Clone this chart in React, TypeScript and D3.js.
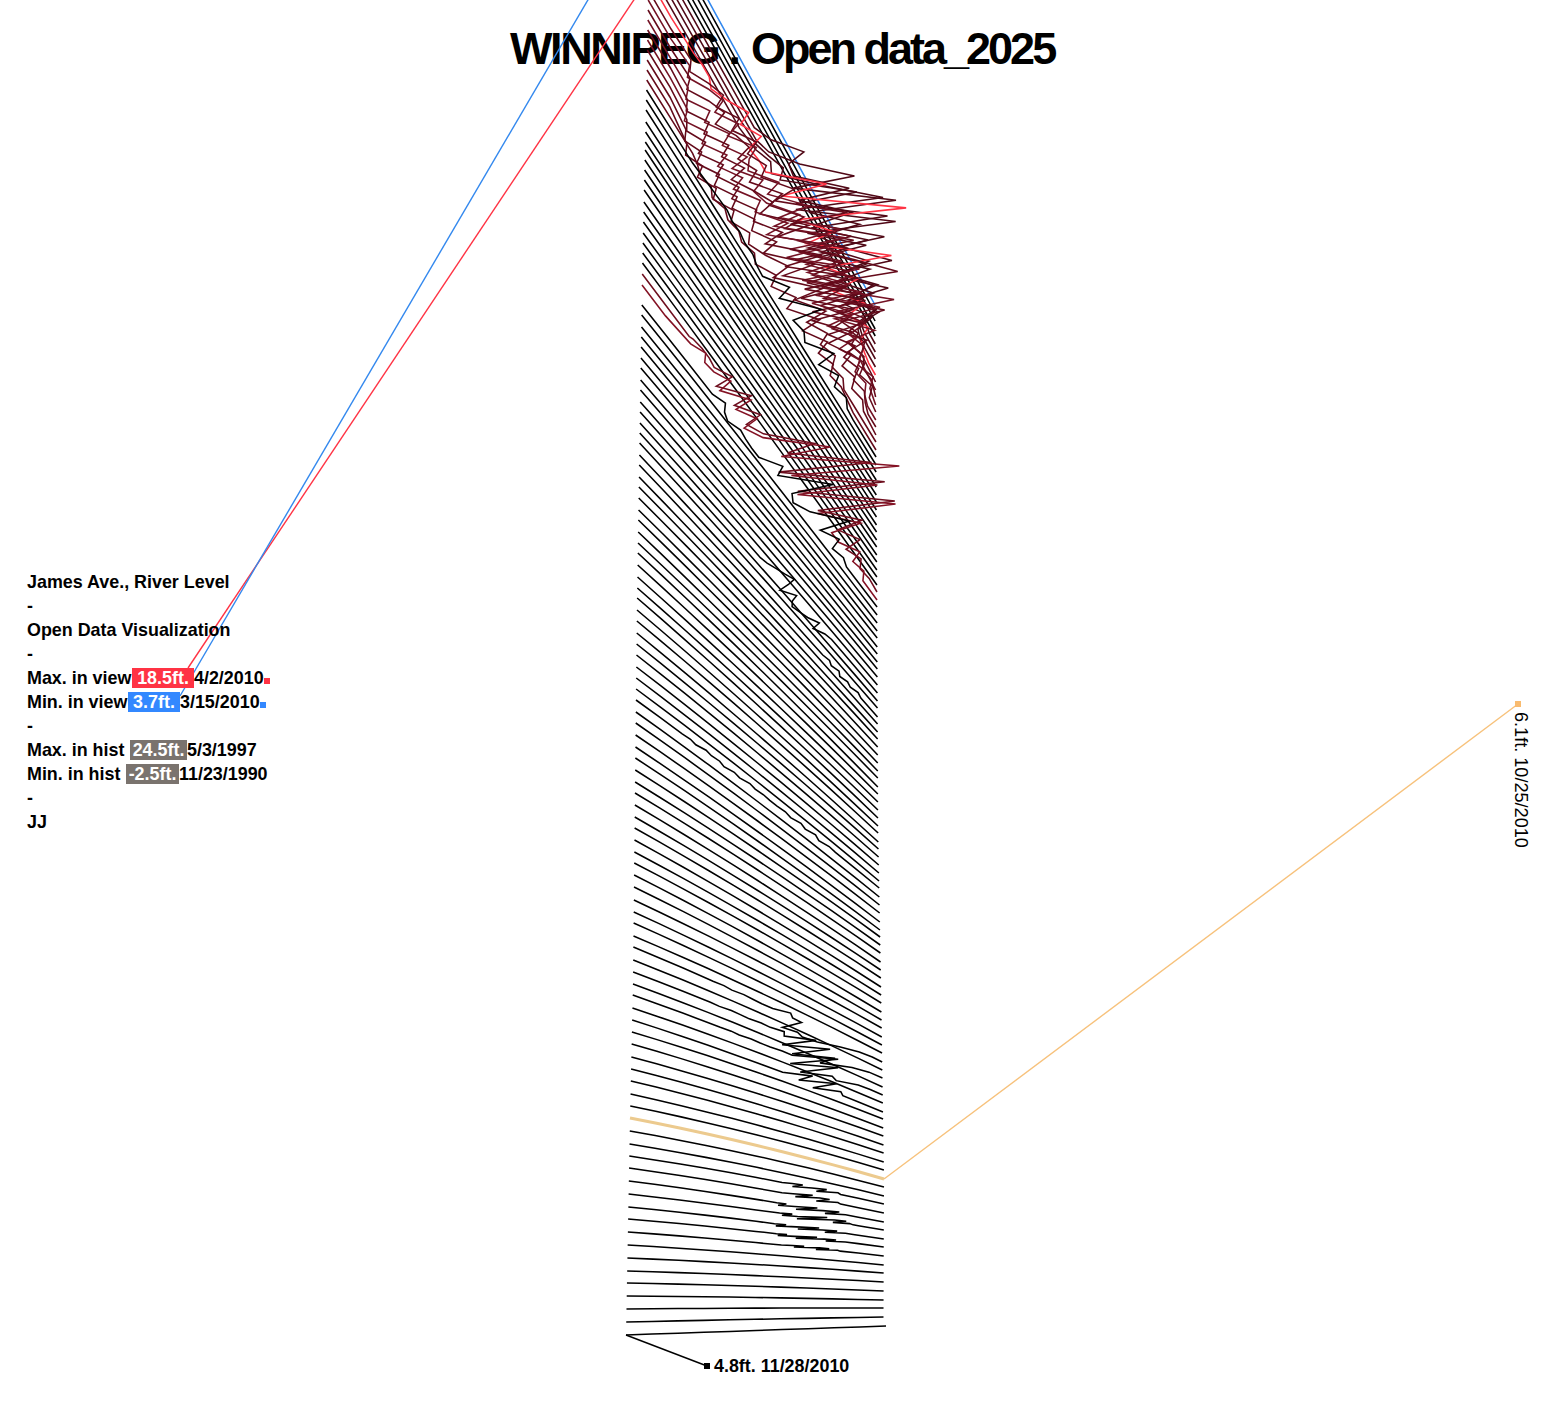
import React from "react";
import * as d3 from "d3";

const W = 1556;
const H = 1404;

// Row ends, from the last day (row 0, bottom) upwards.
const leftEnds = [1335,1322,1309,1296,1283,1271,1258,1245,1232,1219,1207,1194,1181,1168,1156,1144,1131,1118,1106,1094,1081,1069,1057,1044,1032,1020,1008,995,984,972,960,947,936,923,912,900,887,875,863,852,840,828,817,805,793,782,770,758,747,735,723,712,700,689,678,667,655,644,633,621,610,598,588,577,565,553,543,532,520,510,498,487,477,465,455,443,433,423,412,402,390,380,368,358,347,337,327,315,305,285,274,263,253,243,233,222,212,202,190,180,170,160,150,142,132,122,110,100,90,80,70,60,50,40,30,20,10,0,-10,-22,-31,-41,-50,-60,-69,-78,-88,-97,-106];
const rightEnds = [1326,1317,1308,1300,1291,1282,1273,1265,1256,1247,1239,1230,1222,1213,1204,1196,1187,1179,1170,1162,1153,1145,1136,1128,1119,1112,1103,1095,1087,1078,1070,1062,1053,1045,1037,1028,1020,1012,1003,995,987,978,970,962,953,945,937,930,922,913,905,897,888,881,873,865,857,849,842,833,826,818,810,802,794,787,778,771,763,755,747,739,732,724,717,708,701,693,685,677,669,662,654,647,638,631,623,615,607,600,592,585,577,570,562,555,547,540,532,525,517,510,502,495,487,480,472,465,457,450,442,435,427,420,412,405,397,390,382,375,367,359,352,344,336,329,321,313,305];

const leftXRows = [0, 17, 28, 60, 89, 110, 128];
const leftXVals = [626, 630, 633, 637, 642, 647, 650];
const rightXRows = [0, 1, 17, 40, 60, 90, 128];
const rightXVals = [886, 883.5, 884, 881, 878, 877, 875];
const bowRows = [0, 17, 60, 128];
const bowVals = [0, -3, -3, 0];

const ORANGE_ROW = 17;
const RED_ROW = 119;
const BLUE_ROW = 128;

type Wiggle = { row: number; start: number; step: number; offsets: number[]; color?: string };

const DEEP = "#640a1a";
const DEEP2 = "#741224";
const DUSK = "#500816";

const topCloud: Wiggle[] = [
  { row: 123, start: 0.465, step: 0.03, color: DUSK, offsets: [0,10,36,14,12,61,4,50,8,69,6,40,4,30,3,20,2,0] },
  { row: 122, start: 0.473, step: 0.03, color: DUSK, offsets: [0,6,30,78,10,106,12,56,8,30,68,5,40,4,25,2,0] },
  { row: 121, start: 0.463, step: 0.03, color: DUSK, offsets: [2,8,16,6,76,8,93,10,60,6,45,4,53,6,30,3,0] },
  { row: 120, start: 0.455, step: 0.03, color: DUSK, offsets: [4,12,6,50,104,10,103,8,60,6,50,10,40,6,25,4,0] },
  { row: 119, start: 0.19, step: 0.03, offsets: [2,4,4,-1,9,23,8,22,3,6,6,60,8,126,10,40,6,84,12,36,6,30,6,20,6,2,0] },
  { row: 118, start: 0.179, step: 0.03, color: DEEP, offsets: [2,-6,6,14,0,16,2,20,4,16,4,30,4,70,6,60,10,50,86,8,42,6,26,4,12,2] },
  { row: 117, start: 0.169, step: 0.03, color: DEEP2, offsets: [3,-6,8,16,1,18,0,22,8,0,24,6,40,4,58,10,46,4,40,6,71,8,28,6,14,2] },
  { row: 116, start: 0.176, step: 0.03, color: DEEP, offsets: [2,-8,7,16,0,14,20,2,14,0,26,6,34,8,70,8,44,8,36,6,60,10,20,6,12,4,6] },
  { row: 115, start: 0.177, step: 0.03, color: DEEP2, offsets: [0,-9,8,-4,14,0,18,-4,20,4,10,36,4,68,6,50,10,44,6,62,10,43,8,16,6,14,4] },
  { row: 114, start: 0.183, step: 0.03, color: DEEP, offsets: [-2,-10,6,-6,12,-2,14,-6,10,22,2,44,6,70,10,58,8,52,8,30,6,34,8,18,6,12,2] },
  { row: 113, start: 0.184, step: 0.03, color: DEEP2, offsets: [-2,-12,4,-8,10,-6,12,-4,16,4,30,2,60,8,74,10,62,6,40,8,30,6,20,8,12,4,0] },
  { row: 112, start: 0.186, step: 0.03, color: DEEP, offsets: [-3,-10,2,-12,6,-8,8,-6,12,2,24,0,50,6,72,12,66,6,50,8,28,10,18,6,10,4,0] },
  { row: 111, start: 0.187, step: 0.03, color: DEEP, offsets: [-4,-12,-2,-14,2,-10,6,-6,10,0,18,-2,42,4,60,8,54,6,38,8,24,8,14,4,8,2] },
  { row: 110, start: 0.2, step: 0.03, color: DEEP, offsets: [-6,-14,-4,-16,-4,-14,0,-10,2,-6,4,20,-2,40,6,30,4,18,4,12,2,6,0] },
  { row: 109, start: 0.23, step: 0.03, color: DEEP, offsets: [-2,-6,-2,-8,-2,-6,-2,-6,0,-6,8,-4,14,-2,24,0,18,2,10,0,4] },
  { row: 108, start: 0.3, step: 0.03, color: "#000", offsets: [4,5,3,4,2,3,0,-1,19,2,37,2,6,0,22,0,13,2,7,1,0] },
];

const midCloud: Wiggle[] = [
  { row: 90, start: 0.208, step: 0.03, color: "#6e0e1e", offsets: [2,4,4,2,13,-10,18,-6,13,-8,2,46,12,89,-11,88,-6,84,0,37,6,21,0,8,0,2] },
  { row: 89, start: 0.19, step: 0.03, color: "#841224", offsets: [4,12,4,6,16,-2,22,0,14,-6,6,66,10,121,6,85,-2,89,4,40,4,4,18,4,8,0] },
  { row: 88, start: 0.3, step: 0.03, color: "#000", offsets: [0,6,-2,-6,0,-2,-3,-3,14,2,50,2,-4,6,38,2,14,0,4,0] },
  { row: 77, start: 0.507, step: 0.02, color: "#000", offsets: [0,2,6,10,15,4,-9,3,-6,-11,-8,-5,2,-9,-2,0,0] },
  { row: 74, start: 0.77, step: 0.02, color: "#000", offsets: [0,2,-1,2,-2,1,-1,2,0] },
  { row: 52, start: 0.19, step: 0.03, color: "#000", offsets: [0,1,-1,2,0,1,-2,1,-1,2,0,1,0,0,1,-1,2,-1,2,-2,1,0] },
];

const lowCloud: Wiggle[] = [
  { row: 31, start: 0.32, step: 0.04, color: "#000", offsets: [0,1,-1,1,0,-1,0,8,0,-1,-30,-25,-30,-25,-12,-3,0] },
  { row: 29, start: 0.31, step: 0.04, color: "#000", offsets: [0,-1,1,0,-1,1,0,4,-6,16,-28,10,-38,-5,-30,-8,-1] },
  { row: 27, start: 0.35, step: 0.04, color: "#000", offsets: [0,1,-1,1,0,0,2,2,38,-20,18,-30,-8,-14,-2,0] },
  { row: 25, start: 0.6, step: 0.04, color: "#000", offsets: [0,20,-4,24,-10,8,0] },
  { row: 14, start: 0.62, step: 0.03, color: "#000", offsets: [5,8,-10,2,9,-9,5,0] },
  { row: 13, start: 0.62, step: 0.03, color: "#000", offsets: [6,18,-7,10,12,-9,5,0] },
  { row: 12, start: 0.58, step: 0.03, color: "#000", offsets: [0,2,-14,-5,10,-19,0,9,-13,0,0] },
  { row: 11, start: 0.58, step: 0.03, color: "#000", offsets: [3,8,-10,-2,20,-18,12,16,-5,4,0] },
  { row: 10, start: 0.58, step: 0.03, color: "#000", offsets: [-2,2,-16,-3,12,-17,0,7,-13,0,0] },
  { row: 9, start: 0.58, step: 0.03, color: "#000", offsets: [0,3,-14,-5,10,-19,2,6,-12,0] },
  { row: 8, start: 0.62, step: 0.03, color: "#000", offsets: [6,10,-8,10,12,-9,5,0] },
];

const wiggles = [...topCloud, ...midCloud, ...lowCloud];

const infoLines = ["James Ave., River Level", "-", "Open Data Visualization", "-", "", "", "-", "", "", "-", "JJ"];
const statRows = [
  { label: "Max. in view", lx: 132, lw: 62, value: "18.5ft.", date: "4/2/2010", dx: 194, fill: "#ff3344", line: 4 },
  { label: "Min. in view", lx: 128, lw: 52, value: "3.7ft.", date: "3/15/2010", dx: 180, fill: "#3388ff", line: 5 },
  { label: "Max. in hist", lx: 130, lw: 57, value: "24.5ft.", date: "5/3/1997", dx: 187, fill: "#7a736e", line: 7 },
  { label: "Min. in hist", lx: 126, lw: 53, value: "-2.5ft.", date: "11/23/1990", dx: 179, fill: "#7a736e", line: 8 },
];

const RED = "#ff3344";
const BLUE = "#3388ee";
const ORANGE_ROW_C = "#ecca8e";
const ORANGE = "#f7c27c";
const FONT = "'Liberation Sans', Arial, sans-serif";

export default function App() {
  const leftX = d3.scaleLinear().domain(leftXRows).range(leftXVals);
  const rightX = d3.scaleLinear().domain(rightXRows).range(rightXVals);
  const bow = d3.scaleLinear().domain(bowRows).range(bowVals);
  const offsetX = d3.scaleLinear().domain([0, 100]).range([0, 100]);
  const tx = (r: number) => d3.scaleLinear().domain([0, 1]).range([leftX(r), rightX(r)]);
  const ty = (r: number) => d3.scaleLinear().domain([0, 1]).range([leftEnds[r], rightEnds[r]]);
  const line = d3.line<[number, number]>().x((d) => d[0]).y((d) => d[1]);

  const rowPath = (r: number) => {
    const w = wiggles.find((k) => k.row === r);
    const sx = tx(r);
    const sy = ty(r);
    const b = bow(r);
    const grid = d3.range(0, 1.0001, 0.1);
    const pts: { t: number; o: number }[] = [];
    const end = w ? w.start + w.step * (w.offsets.length - 1) : -1;
    grid.forEach((t) => {
      if (!w || t < w.start || t > end) pts.push({ t, o: 0 });
    });
    if (w) w.offsets.forEach((o, i) => pts.push({ t: w.start + i * w.step, o }));
    pts.sort((a, c) => a.t - c.t);
    return line(pts.map((p) => [sx(p.t) + offsetX(p.o), sy(p.t) + b * 4 * p.t * (1 - p.t)] as [number, number])) || "";
  };

  const rowColor = (r: number) => {
    if (r === BLUE_ROW) return BLUE;
    if (r === RED_ROW) return RED;
    if (r === ORANGE_ROW) return ORANGE_ROW_C;
    const w = wiggles.find((k) => k.row === r);
    return (w && w.color) || "#000";
  };

  const rows = d3.range(leftEnds.length - 1, -1, -1);
  const lineY = (i: number) => 588 + i * 24;

  return (
    <svg width={W} height={H} style={{ position: "absolute", left: 0, top: 0, display: "block" }} fontFamily={FONT}>
      <rect width={W} height={H} fill="#fff" />
      <g fontSize={45} fontWeight={700} fill="#000">
        <text x={510} y={64} letterSpacing={-2.4}>WINNIPEG .</text>
        <text x={751} y={64} letterSpacing={-3}>Open data_2025</text>
      </g>

      {rows.map((r) => (
        <path key={r} d={rowPath(r)} fill="none" stroke={rowColor(r)} strokeWidth={r === ORANGE_ROW ? 3 : 1.55} strokeLinejoin="miter" />
      ))}

      <path d={line([[188, 668], [leftX(RED_ROW), leftEnds[RED_ROW]]]) || ""} stroke={RED} strokeWidth={1.4} fill="none" />
      <path d={line([[180, 696], [leftX(BLUE_ROW), leftEnds[BLUE_ROW]]]) || ""} stroke={BLUE} strokeWidth={1.4} fill="none" />
      <path d={line([[rightX(ORANGE_ROW), rightEnds[ORANGE_ROW]], [1518, 704]]) || ""} stroke={ORANGE} strokeWidth={1.4} fill="none" />
      <path d={line([[leftX(0), leftEnds[0]], [707, 1366]]) || ""} stroke="#000" strokeWidth={1.4} fill="none" />

      <g fontSize={17.9} fontWeight={700} fill="#000">
        {infoLines.map((t, i) => t && <text key={i} x={27} y={lineY(i)}>{t}</text>)}
        {statRows.map((s) => (
          <g key={s.label}>
            <text x={27} y={lineY(s.line)}>{s.label}</text>
            <rect x={s.lx} y={lineY(s.line) - 16} width={s.lw} height={20} fill={s.fill} />
            <text x={s.lx + s.lw / 2} y={lineY(s.line)} fill="#fff" textAnchor="middle">{s.value}</text>
            <text x={s.dx} y={lineY(s.line)}>{s.date}</text>
          </g>
        ))}
      </g>
      <rect x={264} y={678} width={6} height={6} fill={RED} />
      <rect x={260} y={702} width={6} height={6} fill="#3388ff" />
      <rect x={1515} y={701} width={6} height={6} fill="#f9bb6f" />
      <rect x={704} y={1363} width={6} height={6} fill="#000" />
      <text x={714} y={1372} fontSize={17.9} fontWeight={700}>4.8ft. 11/28/2010</text>
      <text transform="translate(1515,712) rotate(90)" fontSize={18.1} fill="#000">6.1ft. 10/25/2010</text>
    </svg>
  );
}
